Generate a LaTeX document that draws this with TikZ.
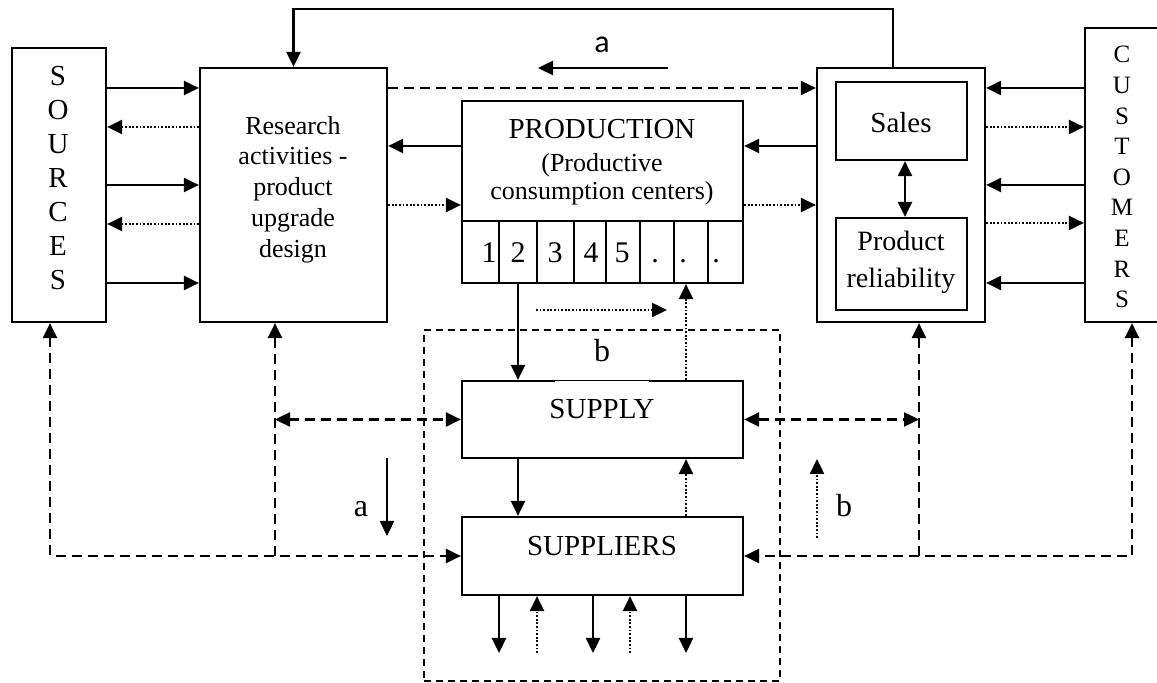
\documentclass[tikz,border=0pt]{standalone}
\usepackage{fontspec}
\setmainfont{Liberation Serif}
\newfontfamily\carlitofont{Carlito}
\usetikzlibrary{arrows.meta,fit}
\begin{document}
\begin{tikzpicture}[x=0.5pt,y=-0.5pt,line width=1.2pt,
  box/.style={draw, line width=1.1pt, inner sep=0pt},
  region/.style={draw, line width=0.8pt, dash pattern=on 3.5pt off 2.5pt, inner sep=0pt},
  arr/.style={-{Triangle[length=7.5pt,width=7pt]}},
  darr/.style={{Triangle[length=7.5pt,width=7pt]}-{Triangle[length=7.5pt,width=7pt]}},
  dsh/.style={dash pattern=on 5pt off 3pt},
  dotln/.style={dash pattern=on 0.9pt off 0.9pt},
  txt/.style={inner sep=0pt, anchor=base, font=\fontsize{13}{15.4}\selectfont},
  bigtxt/.style={inner sep=0pt, anchor=base, font=\fontsize{14.5}{17}\selectfont},
  lbl/.style={inner sep=0pt, anchor=base, font=\fontsize{16}{18}\selectfont}]
\useasboundingbox (0,0) rectangle (1157,683);
\clip (0,0) rectangle (1157,683);

% dashed region
\node[region, fit={(424,330) (780,681)}] (zone) {};

% boxes
\node[box, fit={(12,48) (106,322)}] (src) {};
\node[box, fit={(200,68) (387,322)}] (res) {};
\node[box, fit={(462,101) (743,221)}] (prod) {};
\foreach \l/\r [count=\i] in {462/499,499/537,537/574,574/606,606/640,640/674,674/708,708/743}
  \node[box, fit={(\l,221) (\r,283)}] (c\i) {};
\node[box, fit={(817,68) (985,322)}] (sal) {};
\node[box, fit={(836,82) (967,160)}] (sale) {};
\node[box, fit={(836,218) (967,310)}] (rel) {};
\node[box, fit={(1085,28) (1180,322)}] (cus) {};
\node[box, fit={(462,381) (743,458)}] (sup) {};
\node[box, fit={(462,517) (743,595)}] (sups) {};
\draw[white, line width=1.5pt] (555,381) -- (649,381);
\draw[line width=0.5pt] (555,381) -- (649,381);

% texts
\foreach \ch [count=\i] in {S,O,U,R,C,E,S}
  \node[inner sep=0pt, anchor=base, font=\fontsize{14.5}{17}\selectfont] (sl\i) at ({58},{86+34*(\i-1)}) {\ch};
\foreach \ch [count=\i] in {C,U,S,T,O,M,E,R,S}
  \node[inner sep=0pt, anchor=base, font=\fontsize{12.5}{15}\selectfont] (cl\i) at ({1122},{63+30.6*(\i-1)}) {\ch};
\node[inner sep=0pt, align=center, font=\fontsize{13}{15.4}\selectfont] (restxt) at (293,189.5)
  {Research\\activities -\\product\\upgrade\\design};
\node[bigtxt] (ptxt1) at (602,139) {PRODUCTION};
\node[txt] (ptxt2) at (602,172) {(Productive};
\node[txt] (ptxt3) at (602,200) {consumption centers)};
\foreach \x/\t [count=\i] in {489/1,518/2,555/3,591/4,622/5,655/.,683/.,716/.}
  \node[inner sep=0pt, anchor=base, font=\fontsize{15}{17}\selectfont] (n\i) at (\x,263) {\t};
\node[inner sep=0pt, anchor=base, font=\fontsize{14.5}{17}\selectfont] (saltxt) at (901,133) {Sales};
\node[inner sep=0pt, anchor=base, font=\fontsize{14}{17}\selectfont] (reltxt1) at (901,251) {Product};
\node[inner sep=0pt, anchor=base, font=\fontsize{14}{17}\selectfont] (reltxt2) at (901,288) {reliability};
\node[bigtxt] (suptxt) at (602,419) {SUPPLY};
\node[bigtxt] (supstxt) at (602,556) {SUPPLIERS};
\node[inner sep=0pt, anchor=base, font=\carlitofont\fontsize{16}{18}\selectfont] (la1) at (602,53) {a};
\node[lbl] (lb1) at (602,362) {b};
\node[lbl] (la2) at (361,517) {a};
\node[lbl] (lb2) at (844,517) {b};

% sources <-> research
\foreach \y in {88,185,283} \draw[arr] (src.east |- 0,\y) -- (res.west |- 0,\y);
\foreach \y in {127,224} \draw[arr, dotln] (res.west |- 0,\y) -- (src.east |- 0,\y);
% research <-> production / sales
\draw[arr, dsh] (res.east |- 0,88) -- (sal.west |- 0,88);
\draw[arr] (prod.west |- 0,146) -- (res.east |- 0,146);
\draw[arr, dotln] (res.east |- 0,205) -- (prod.west |- 0,205);
\draw[arr] (sal.west |- 0,146) -- (prod.east |- 0,146);
\draw[arr, dotln] (prod.east |- 0,205) -- (sal.west |- 0,205);
\draw[arr] (sal.north -| 893,0) -- (893,9) -| (res.north);
% customers <-> sales
\foreach \y in {88,185,283} \draw[arr] (cus.west |- 0,\y) -- (sal.east |- 0,\y);
\foreach \y in {127,223} \draw[arr, dotln] (sal.east |- 0,\y) -- (cus.west |- 0,\y);
\draw[darr] (sale.south -| 905,0) -- (rel.north -| 905,0);
% top "a" arrow
\coordinate (aT1) at (668,68); \coordinate (aT2) at (538,68);
\draw[arr] (aT1) -- (aT2);
% production <-> supply
\draw[arr] (c2.south) -- (sup.north -| c2.south);
\draw[arr, dotln] (sup.north -| 686,0) -- (c7.south -| 686,0);
\coordinate (h1) at (536,310); \coordinate (h2) at (667,310);
\draw[arr, dotln] (h1) -- (h2);
% supply <-> suppliers
\draw[arr] (sup.south -| 518,0) -- (sups.north -| 518,0);
\draw[arr, dotln] (sups.north -| 686,0) -- (sup.south -| 686,0);
% suppliers bottom
\foreach \x [count=\i] in {499,593,686} {
  \coordinate (bd\i) at (\x,653);
  \draw[arr] (sups.south -| bd\i) -- (bd\i);}
\foreach \x [count=\i] in {537,630} {
  \coordinate (bu\i) at (\x,653);
  \draw[arr, dotln] (bu\i) -- (sups.south -| bu\i);}
% dashed feedback network
\coordinate (rl) at (275,556); \coordinate (rm) at (275,419.5);
\coordinate (sr) at (919,556); \coordinate (sm) at (919,419.5);
\draw[darr, dsh] (src.south -| 50,0) |- (sups.west);
\draw[arr, dsh] (rl) -- (res.south -| rl);
\draw[darr, dsh] (rm) -- (sup.west);
\draw[darr, dsh] (cus.south -| 1132,0) |- (sups.east);
\draw[arr, dsh] (sr) -- (sal.south -| sr);
\draw[darr, dsh] (sup.east) -- (sm);
% "a" and "b" side arrows
\coordinate (a1) at (387,458); \coordinate (a2) at (387,536);
\draw[arr] (a1) -- (a2);
\coordinate (b1) at (817,538); \coordinate (b2) at (817,459);
\draw[arr, dotln] (b1) -- (b2);
\end{tikzpicture}
\end{document}
